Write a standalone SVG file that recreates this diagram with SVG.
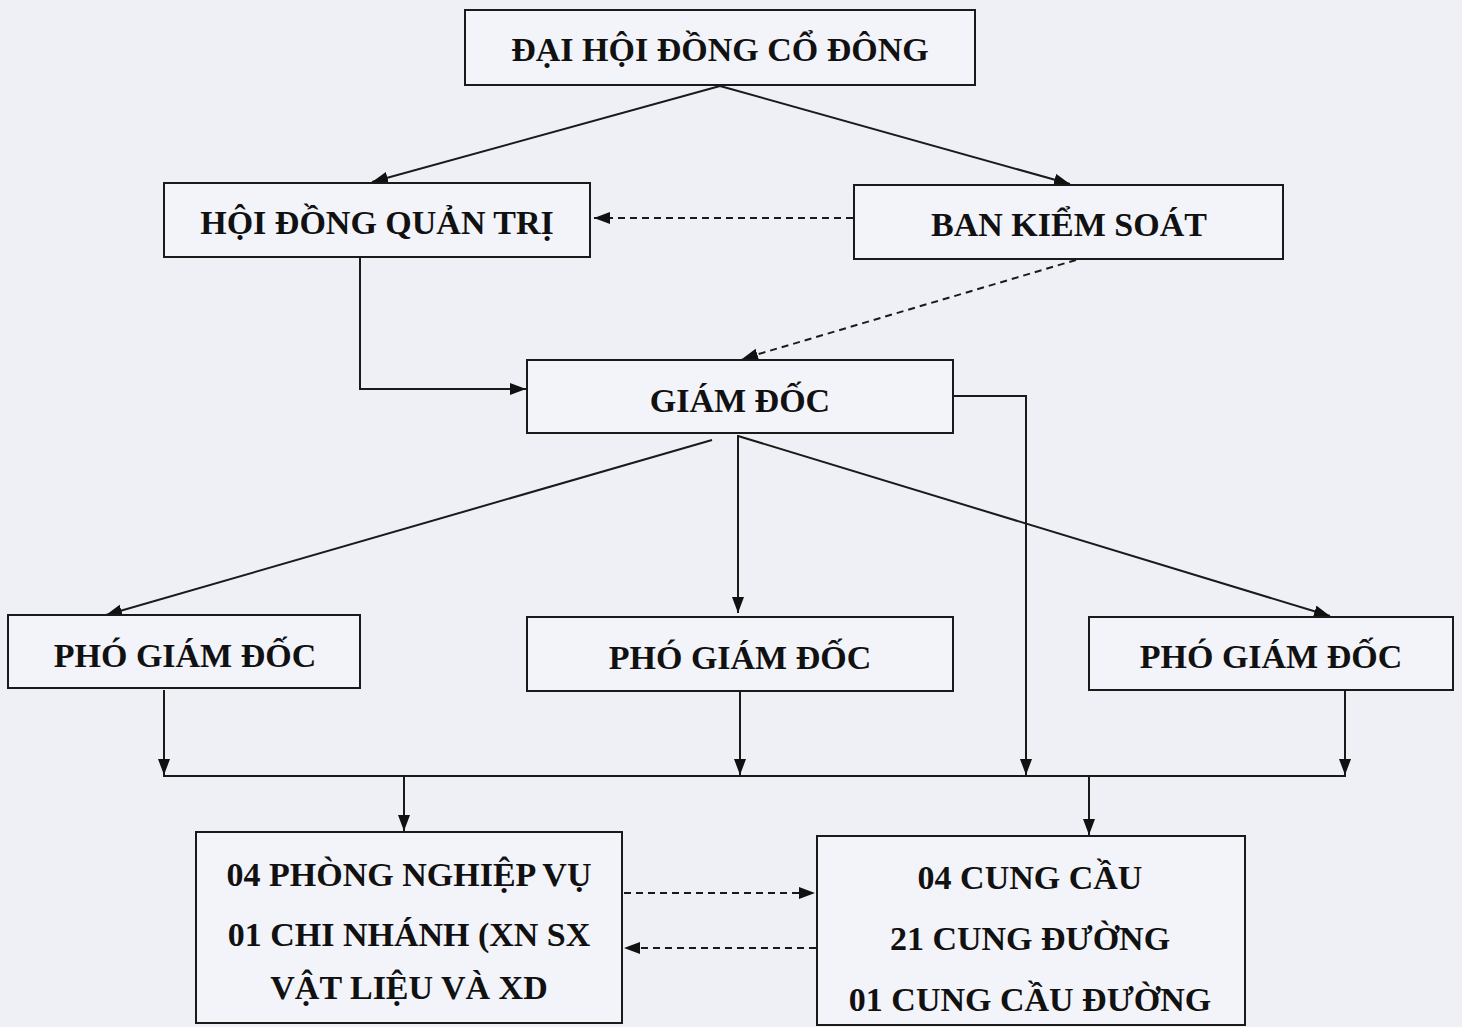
<svg xmlns="http://www.w3.org/2000/svg" width="1462" height="1027" viewBox="0 0 1462 1027">
<style>
.box{fill:#f3f4f9;stroke:#1a1a1a;stroke-width:2}
.t{font-family:"Liberation Serif","Times New Roman",serif;font-weight:bold;font-size:34px;fill:#111;text-anchor:middle}
.c{fill:none;stroke:#1a1a1a;stroke-width:2}
.d{fill:none;stroke:#1a1a1a;stroke-width:2;stroke-dasharray:7,5}
</style>
<defs>
<marker id="ah" markerUnits="userSpaceOnUse" markerWidth="18" markerHeight="14" refX="16" refY="6" orient="auto">
<path d="M0,0 L16,6 L0,12 Z" fill="#111"/>
</marker>
</defs>
<rect width="1462" height="1027" fill="#eef0f6"/>
<g id="connectors">
<line class="c" x1="720" y1="86" x2="372" y2="182" marker-end="url(#ah)"/>
<line class="c" x1="720" y1="86" x2="1070" y2="184" marker-end="url(#ah)"/>
<line class="d" x1="853" y1="218" x2="594" y2="218" marker-end="url(#ah)"/>
<line class="d" x1="1076" y1="260" x2="742" y2="359" marker-end="url(#ah)"/>
<polyline class="c" points="360,258 360,389 526,389" marker-end="url(#ah)"/>
<polyline class="c" points="954,396 1026,396 1026,775" marker-end="url(#ah)"/>
<line class="c" x1="712" y1="440" x2="106" y2="615" marker-end="url(#ah)"/>
<line class="c" x1="738" y1="435" x2="738" y2="613" marker-end="url(#ah)"/>
<line class="c" x1="738" y1="436" x2="1330" y2="616" marker-end="url(#ah)"/>
<line class="c" x1="164" y1="690" x2="164" y2="775" marker-end="url(#ah)"/>
<line class="c" x1="740" y1="692" x2="740" y2="775" marker-end="url(#ah)"/>
<line class="c" x1="1345" y1="691" x2="1345" y2="775" marker-end="url(#ah)"/>
<line class="c" x1="163" y1="776" x2="1346" y2="776"/>
<line class="c" x1="404" y1="776" x2="404" y2="831" marker-end="url(#ah)"/>
<line class="c" x1="1089" y1="776" x2="1089" y2="835" marker-end="url(#ah)"/>
<line class="d" x1="624" y1="893" x2="815" y2="893" marker-end="url(#ah)"/>
<line class="d" x1="816" y1="948" x2="624" y2="948" marker-end="url(#ah)"/>
</g>
<g id="dhdcd"><rect class="box" x="465" y="10" width="510" height="75"/><text class="t" x="720" y="61">ĐẠI HỘI ĐỒNG CỔ ĐÔNG</text></g>
<g id="hdqt"><rect class="box" x="164" y="183" width="426" height="74"/><text class="t" x="377" y="234">HỘI ĐỒNG QUẢN TRỊ</text></g>
<g id="bks"><rect class="box" x="854" y="185" width="429" height="74"/><text class="t" x="1069" y="236">BAN KIỂM SOÁT</text></g>
<g id="gd"><rect class="box" x="527" y="360" width="426" height="73"/><text class="t" x="740" y="412">GIÁM ĐỐC</text></g>
<g id="pgd1"><rect class="box" x="8" y="615" width="352" height="73"/><text class="t" x="185" y="667">PHÓ GIÁM ĐỐC</text></g>
<g id="pgd2"><rect class="box" x="527" y="617" width="426" height="74"/><text class="t" x="740" y="669">PHÓ GIÁM ĐỐC</text></g>
<g id="pgd3"><rect class="box" x="1089" y="617" width="364" height="73"/><text class="t" x="1271" y="668">PHÓ GIÁM ĐỐC</text></g>
<g id="phong"><rect class="box" x="196" y="832" width="426" height="191"/>
<text class="t" x="409" y="886">04 PHÒNG NGHIỆP VỤ</text>
<text class="t" x="409" y="946">01 CHI NHÁNH (XN SX</text>
<text class="t" x="409" y="999">VẬT LIỆU VÀ XD</text></g>
<g id="cung"><rect class="box" x="817" y="836" width="428" height="189"/>
<text class="t" x="1030" y="889">04 CUNG CẦU</text>
<text class="t" x="1030" y="950">21 CUNG ĐƯỜNG</text>
<text class="t" x="1030" y="1011">01 CUNG CẦU ĐƯỜNG</text></g>
</svg>
